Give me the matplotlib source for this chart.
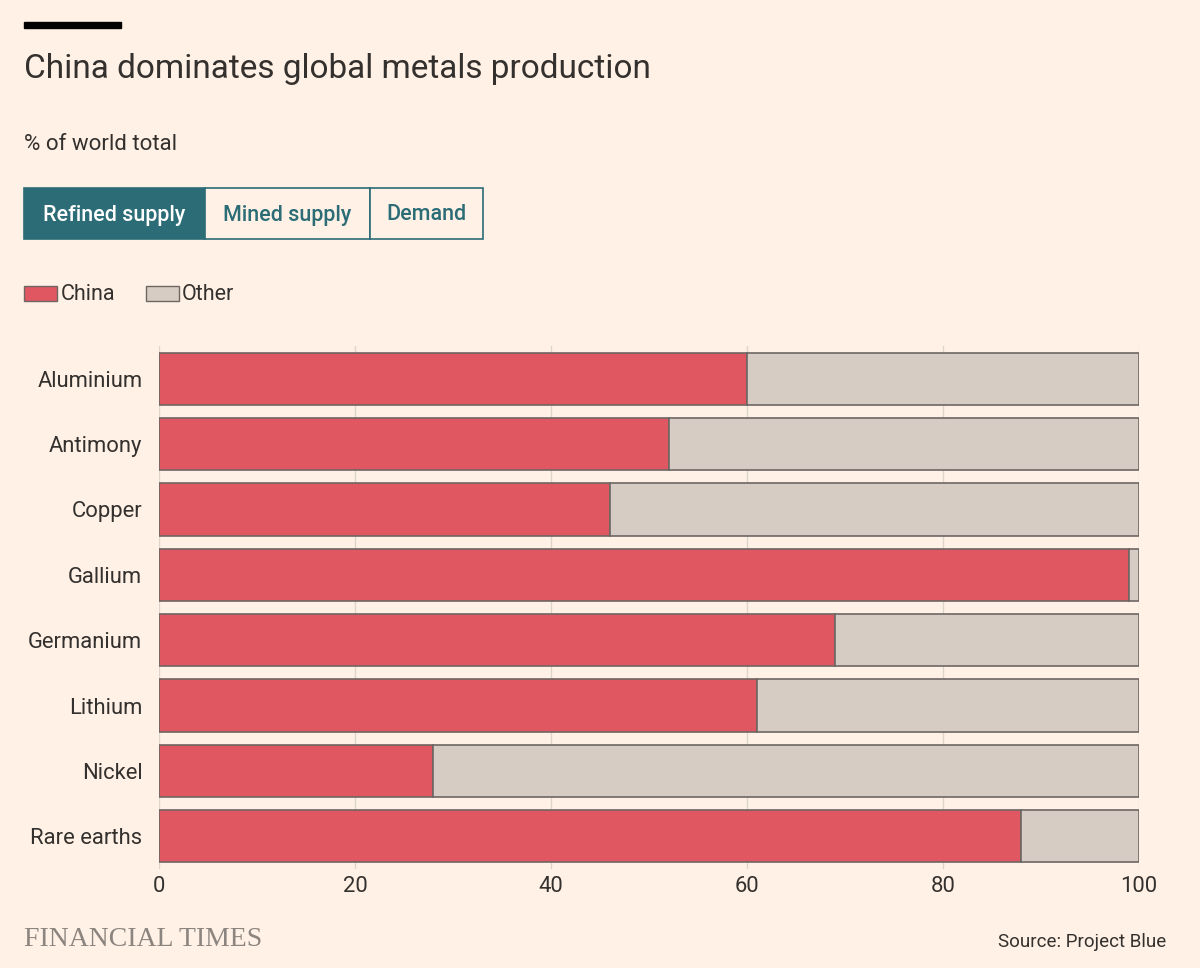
import matplotlib
matplotlib.use("Agg")
import matplotlib.pyplot as plt
from matplotlib.patches import Rectangle

categories = ["Aluminium", "Antimony", "Copper", "Gallium", "Germanium",
              "Lithium", "Nickel", "Rare earths"]
china = [60, 52, 46, 99, 69, 61, 28, 88]
other = [100 - v for v in china]
xticks = [0, 20, 40, 60, 80, 100]
buttons = ["Refined supply", "Mined supply", "Demand"]

BG = "#fff1e5"
RED = "#e05761"
GREY = "#d7ccc3"
EDGE = "#6e6663"
TEAL = "#2b6c76"
TEXT = "#33302e"

plt.rcParams['font.family'] = ['Roboto', 'DejaVu Sans']

W, H = 1200, 968
fig = plt.figure(figsize=(W / 100, H / 100), dpi=100, facecolor=BG)

def fx(px):
    return px / W

def fy(py):
    return 1 - py / H

# top black rule
fig.patches.append(Rectangle((fx(24), fy(28)), fx(121) - fx(24), fy(22) - fy(28),
                             transform=fig.transFigure, color="black", zorder=5))

fig.text(fx(24), fy(69), "China dominates global metals production",
         fontsize=24, color=TEXT, va="center", ha="left")
fig.text(fx(24), fy(145), "% of world total", fontsize=16, color=TEXT,
         va="center", ha="left")

# buttons
bx = [24, 205, 370, 483]
for i, lab in enumerate(buttons):
    x0, x1 = bx[i], bx[i + 1]
    active = i == 0
    fig.patches.append(Rectangle((fx(x0), fy(239)), fx(x1) - fx(x0), fy(188) - fy(239),
                                 transform=fig.transFigure,
                                 facecolor=TEAL if active else BG,
                                 edgecolor=TEAL, linewidth=1.2, zorder=3))
    fig.text(fx((x0 + x1) / 2), fy(215), lab, fontsize=15.5,
             color="white" if active else TEAL, ha="center", va="center",
             fontweight="medium", zorder=4)

# legend
for (x0, x1, col, lab, tx) in [(24, 57, RED, "China", 61), (146, 179, GREY, "Other", 182)]:
    fig.patches.append(Rectangle((fx(x0), fy(301)), fx(x1) - fx(x0), fy(286) - fy(301),
                                 transform=fig.transFigure, facecolor=col,
                                 edgecolor=EDGE, linewidth=1, zorder=3))
    fig.text(fx(tx), fy(295), lab, fontsize=15.5, color=TEXT, ha="left", va="center")

ax = fig.add_axes([fx(159), fy(869), fx(1139) - fx(159), fy(346) - fy(869)])
ax.set_facecolor(BG)
y = list(range(len(categories)))
ax.barh(y, china, height=0.8, color=RED, edgecolor=EDGE, linewidth=1.2, zorder=3)
ax.barh(y, other, left=china, height=0.8, color=GREY, edgecolor=EDGE, linewidth=1.2, zorder=3)
ax.set_ylim(len(categories) - 0.5, -0.5)
ax.set_xlim(0, 100)
ax.set_yticks(y)
ax.set_yticklabels(categories)
ax.set_xticks(xticks)
ax.set_xticklabels([str(t) for t in xticks])
ax.tick_params(axis="both", length=0, labelsize=15.8, colors=TEXT)
ax.tick_params(axis="y", pad=12)
ax.tick_params(axis="x", pad=5)
ax.grid(axis="x", color="#ddd4cb", linewidth=1.0, zorder=0)
for s in ax.spines.values():
    s.set_visible(False)

fig.text(fx(24), fy(940), "FINANCIAL TIMES", fontsize=20, color="#8c857f",
         family=["Liberation Serif", "DejaVu Serif"], ha="left", va="center")
fig.text(fx(1166), fy(942), "Source: Project Blue", fontsize=13.5, color=TEXT,
         ha="right", va="center")

fig.savefig("out.png", dpi=100, facecolor=BG)
